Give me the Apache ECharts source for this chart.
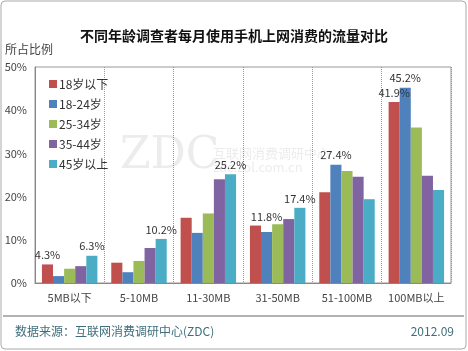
<!DOCTYPE html>
<html>
<head>
<meta charset="utf-8">
<script src="https://cdn.jsdelivr.net/npm/echarts@6/dist/echarts.min.js"></script>
<style>
html,body{margin:0;padding:0;background:#fff;}
#main{width:468px;height:351px;}
</style>
</head>
<body>
<div id="main"></div>
<script>
// 流量分段
var categories = ['5MB以下', '5-10MB', '11-30MB', '31-50MB', '51-100MB', '100MB以上'];
var seriesNames = ['18岁以下', '18-24岁', '25-34岁', '35-44岁', '45岁以上'];
var colors = ['#C0504D', '#4F81BD', '#9BBB59', '#8064A2', '#4BACC6'];
// 各年龄段数据(%)
var under18 = [4.3, 4.7, 15.1, 13.3, 21.0, 41.9];
var age18_24 = [1.6, 2.5, 11.6, 11.8, 27.4, 45.2];
var age25_34 = [3.3, 5.1, 16.1, 13.6, 25.9, 36.0];
var age35_44 = [3.9, 8.1, 24.0, 14.8, 24.6, 24.8];
var over45 = [6.3, 10.2, 25.2, 17.4, 19.4, 21.5];
// 显示数值标签的位置(分类下标)
var shownLabels = [[0, 5], [3, 4, 5], [], [], [0, 1, 2, 3]];
var yTicks = [0, 10, 20, 30, 40, 50];

var allData = [under18, age18_24, age25_34, age35_44, over45];
var font = '"Noto Sans CJK SC", sans-serif';

var series = allData.map(function(vals, s){
    return {
        name: seriesNames[s],
        type: 'bar',
        barGap: '0%',
        barCategoryGap: '20%',
        itemStyle: {color: colors[s]},
        data: vals.map(function(v, i){
            var show = shownLabels[s].indexOf(i) >= 0;
            return {
                value: v,
                label: {
                    show: show,
                    position: 'top',
                    distance: (s == 1 && i == 3) ? 10 : 4,
                    formatter: '{c}%',
                    color: '#333',
                    fontSize: 11,
                    fontFamily: font
                }
            };
        })
    };
});

var myChart = echarts.init(document.getElementById('main'));
myChart.setOption({
    animation: false,
    backgroundColor: '#fff',
    title: {
        text: '不同年龄调查者每月使用手机上网消费的流量对比',
        left: 'center',
        top: 24,
        textStyle: {fontSize: 14, fontWeight: 'bold', color: '#111', fontFamily: font}
    },
    grid: {
        left: 35, right: 17, top: 67, bottom: 68,
        show: true, borderColor: '#999', borderWidth: 1
    },
    legend: {
        orient: 'vertical',
        left: 44, top: 73,
        itemWidth: 8, itemHeight: 8, itemGap: 8,
        icon: 'rect',
        textStyle: {fontSize: 12, color: '#333', fontFamily: font, padding: [0, 0, 0, -3]},
        data: seriesNames
    },
    xAxis: {
        type: 'category',
        data: categories,
        axisLine: {lineStyle: {color: '#888'}},
        axisTick: {show: false},
        axisLabel: {color: '#444', fontSize: 11, fontFamily: font, margin: 9, interval: 0},
        splitLine: {show: true, lineStyle: {color: '#999', type: 'dotted'}}
    },
    yAxis: {
        type: 'value',
        min: 0, max: 50, interval: 10,
        axisLine: {show: true, lineStyle: {color: '#888'}},
        axisTick: {show: false},
        splitLine: {show: false},
        axisLabel: {color: '#444', fontSize: 11, fontFamily: font, margin: 8,
            formatter: function(v){ return yTicks.indexOf(v) >= 0 ? v + '%' : ''; }}
    },
    graphic: [
        {type: 'rect', shape: {x: 1, y: 1, width: 465, height: 348, r: 4},
            style: {fill: null, stroke: '#aaa', lineWidth: 1}, z: -1},
        {type: 'text', left: 5, top: 43,
            style: {text: '所占比例', fontSize: 12, fill: '#444', fontFamily: font}},
        {type: 'text', left: 120, top: 135, z: 0,
            style: {text: 'ZDC', fontSize: 44, fill: 'rgba(200,200,200,0.35)', fontFamily: 'DejaVu Serif'}},
        {type: 'text', left: 213, top: 146, z: 0,
            style: {text: '互联网消费调研中心\nzdc.zol.com.cn', fontSize: 13, lineHeight: 14, fill: 'rgba(200,200,200,0.35)', fontFamily: font}},
        {type: 'line', shape: {x1: 3, y1: 316, x2: 464, y2: 316},
            style: {stroke: '#666', lineWidth: 1}},
        {type: 'text', left: 15, top: 325,
            style: {text: '数据来源：互联网消费调研中心(ZDC)', fontSize: 12, fill: '#3F6E7C', fontFamily: font}},
        {type: 'text', right: 14, top: 325,
            style: {text: '2012.09', fontSize: 12, fill: '#3F6E7C', fontFamily: font}}
    ],
    series: series
});
</script>
</body>
</html>
